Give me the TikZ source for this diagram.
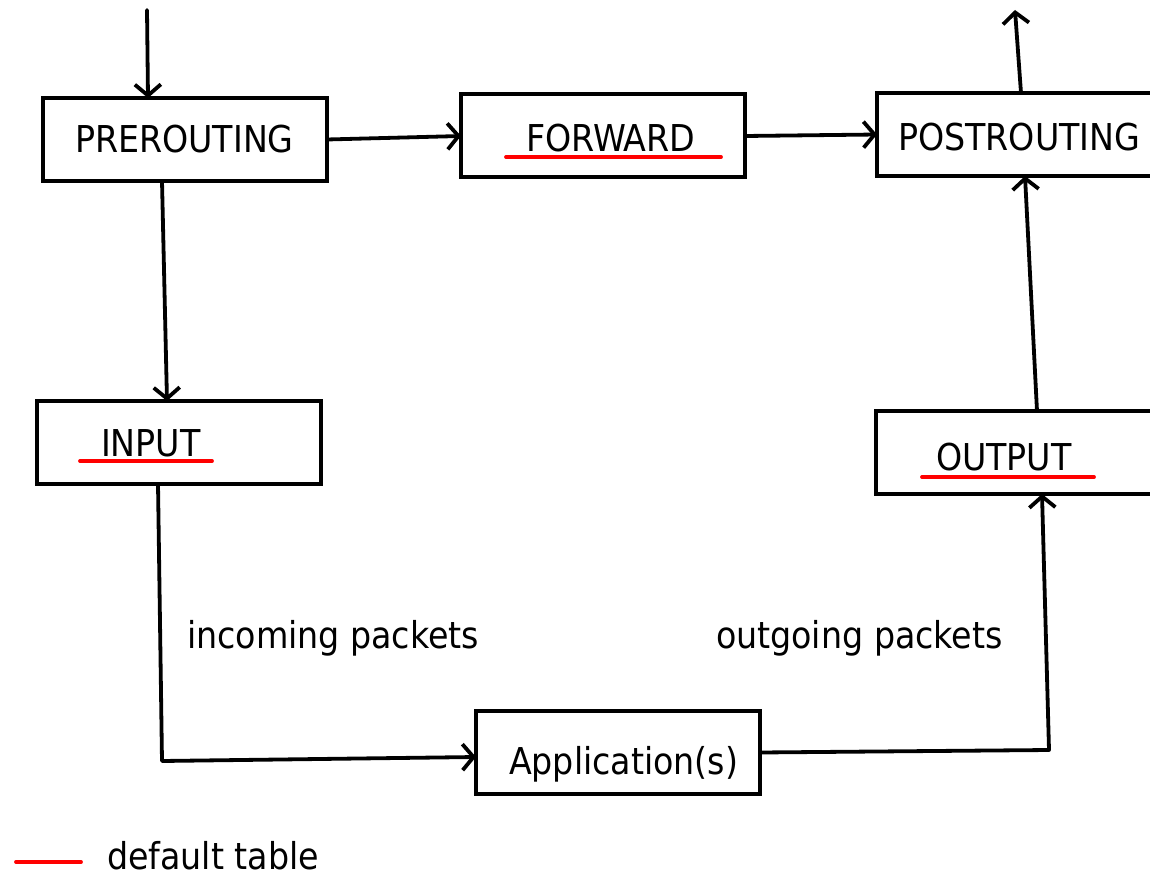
\documentclass[tikz,border=0pt]{standalone}
\usepackage{fontspec}
\setmainfont{DejaVu Sans Condensed}
\usetikzlibrary{arrows.meta,calc}
\begin{document}
\begin{tikzpicture}[x=1pt,y=-1pt,
  box/.style={draw,line width=4pt,minimum width=284pt,minimum height=83pt,outer sep=0pt,inner sep=0pt},
  lbl/.style={anchor=base west,inner sep=0pt,outer sep=0pt,font=\fontsize{37}{40}\selectfont},
  conn/.style={line width=3.8pt,line cap=round,line join=round},
  arr/.style={conn,-{Straight Barb[length=11pt,width=26pt,line width=3.8pt]}},
  redline/.style={draw=red,line width=3.8pt,line cap=round}]
\useasboundingbox (0,0) rectangle (1150,877);
\clip (0,0) rectangle (1150,877);
% boxes
\node[box] (pre)  at (185,139.5) {};
\node[box] (fwd)  at (603,136) {};
\node[box] (post) at (1019,134.5) {};
\node[box] (inp)  at (179,442.5) {};
\node[box] (out)  at (1018,452.5) {};
\node[box] (app)  at (618,752.5) {};
% labels
\node[lbl] (tpre)  at (75,153) {PREROUTING};
\node[lbl] (tfwd)  at (526,152) {FORWARD};
\node[lbl] (tpost) at (898,151) {POSTROUTING};
\node[lbl] (tinp)  at (101,456) {INPUT};
\node[lbl] (tout)  at (936,470) {OUTPUT};
\node[lbl] (tapp)  at (509,774) {Application(s)};
\node[lbl] (tin)   at (187,648) {incoming packets};
\node[lbl] (tog)   at (716,648) {outgoing packets};
\node[lbl] (tleg)  at (107,869) {default table};
% free ends and bends
\coordinate (start) at (147,10);
\coordinate (finish) at (1015,10);
\coordinate (c1) at (162,761);
\coordinate (c2) at (1049,750);
% connectors
\draw[arr] (start) -- ([xshift=-37pt]pre.north);
\draw[arr] (pre.east) -- (fwd.west);
\draw[arr] (fwd.east) -- (post.west);
\draw[arr] ([xshift=2pt]post.north) -- (finish);
\draw[arr] ([xshift=-23pt]pre.south) -- ([xshift=-12pt]inp.north);
\draw[arr] ([xshift=-21pt]inp.south) -- (c1) -- ([yshift=-4.5pt]app.west);
\draw[arr] (app.east) -- (c2) -- ([xshift=24pt]out.south);
\draw[arr] ([xshift=19pt]out.north) -- ([xshift=6pt]post.south);
% red underlines
\draw[redline] (506,157) -- (721,157);
\draw[redline] (80,461) -- (212,461);
\draw[redline] (922,477) -- (1094,477);
\draw[redline] (16,862) -- (81,862);
\end{tikzpicture}
\end{document}
